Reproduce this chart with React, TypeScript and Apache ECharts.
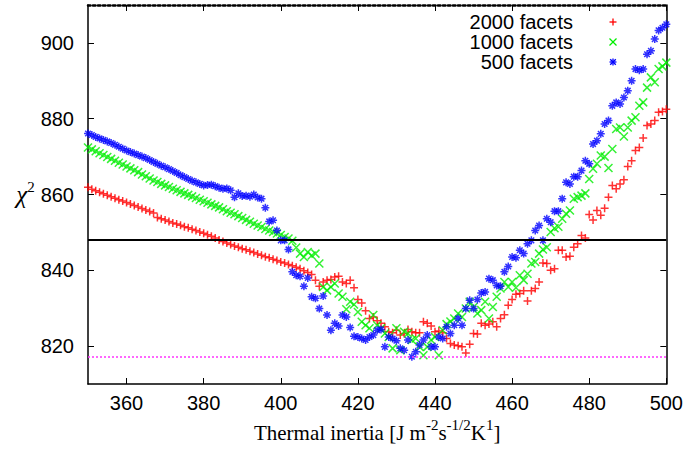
import React, { useEffect, useRef } from "react";
import * as echarts from "echarts";

const THERMAL_INERTIA = [
  350, 351, 352, 353, 354, 355, 356, 357, 358, 359,
  360, 361, 362, 363, 364, 365, 366, 367, 368, 369,
  370, 371, 372, 373, 374, 375, 376, 377, 378, 379,
  380, 381, 382, 383, 384, 385, 386, 387, 388, 389,
  390, 391, 392, 393, 394, 395, 396, 397, 398, 399,
  400, 401, 402, 403, 404, 405, 406, 407, 408, 409,
  410, 411, 412, 413, 414, 415, 416, 417, 418, 419,
  420, 421, 422, 423, 424, 425, 426, 427, 428, 429,
  430, 431, 432, 433, 434, 435, 436, 437, 438, 439,
  440, 441, 442, 443, 444, 445, 446, 447, 448, 449,
  450, 451, 452, 453, 454, 455, 456, 457, 458, 459,
  460, 461, 462, 463, 464, 465, 466, 467, 468, 469,
  470, 471, 472, 473, 474, 475, 476, 477, 478, 479,
  480, 481, 482, 483, 484, 485, 486, 487, 488, 489,
  490, 491, 492, 493, 494, 495, 496, 497, 498, 499,
  500,
];

const CHI2_2000 = [
  861.9, 861.4, 861.0, 860.6, 860.2, 859.8, 859.4, 859.0, 858.6, 858.3,
  857.9, 857.5, 857.1, 856.7, 856.3, 855.9, 855.5, 855.1, 853.9, 853.6,
  853.3, 852.9, 852.5, 852.2, 851.9, 851.5, 851.2, 850.8, 850.5, 850.1,
  849.8, 849.4, 849.0, 848.5, 848.0, 847.6, 847.2, 846.8, 846.4, 846.1,
  845.7, 845.4, 845.0, 844.7, 844.3, 844.0, 843.6, 843.3, 842.9, 842.6,
  842.2, 841.9, 841.5, 841.2, 840.8, 840.4, 839.9, 839.4, 838.9, 837.4,
  835.8, 836.9, 837.4, 837.6, 838.2, 838.4, 836.9, 836.5, 837.4, 835.4,
  832.3, 831.4, 829.3, 827.3, 827.7, 826.7, 826.0, 825.1, 823.8, 823.5,
  824.2, 822.9, 823.3, 824.4, 823.8, 823.5, 823.5, 826.4, 826.0, 825.3,
  823.8, 824.0, 823.5, 822.0, 820.7, 820.3, 820.1, 819.8, 818.2, 820.5,
  823.3, 823.2, 826.0, 825.5, 825.8, 826.4, 825.1, 827.3, 828.3, 830.8,
  832.3, 833.7, 833.9, 834.6, 831.9, 834.6, 835.2, 836.9, 841.9, 841.8,
  840.0, 840.4, 845.3, 845.3, 843.5, 843.7, 846.1, 847.0, 849.2, 848.5,
  854.7, 853.3, 855.8, 854.5, 856.4, 859.3, 862.4, 861.5, 862.8, 863.9,
  867.4, 868.9, 871.6, 872.4, 874.9, 878.2, 878.6, 879.5, 881.7, 881.9,
  882.5,
];

const CHI2_1000 = [
  872.4, 871.9, 871.4, 870.9, 870.4, 869.9, 869.4, 868.9, 868.4, 867.9,
  867.4, 866.9, 866.4, 865.9, 865.3, 864.8, 864.2, 863.7, 863.3, 862.8,
  862.4, 862.0, 861.5, 861.1, 860.7, 860.3, 859.9, 859.5, 859.1, 858.6,
  858.2, 857.8, 857.4, 857.0, 856.6, 856.1, 855.6, 855.2, 854.8, 854.3,
  853.8, 853.3, 852.8, 852.3, 851.8, 851.4, 850.9, 850.5, 850.1, 849.7,
  849.3, 848.8, 848.4, 847.8, 846.0, 844.4, 843.5, 844.8, 843.9, 844.4,
  841.8, 835.6, 834.7, 835.6, 836.5, 833.9, 833.0, 829.7, 831.7, 831.0,
  829.0, 826.4, 825.5, 824.7, 828.2, 825.5, 824.7, 823.3, 822.4, 819.4,
  824.7, 818.9, 823.8, 823.3, 821.6, 822.0, 819.8, 817.6, 819.8, 821.6,
  822.4, 817.6, 824.2, 825.8, 826.5, 827.3, 828.6, 827.7, 829.9, 831.7,
  830.3, 828.6, 829.5, 831.7, 827.3, 830.3, 833.0, 835.2, 836.9, 835.6,
  836.9, 835.4, 838.7, 837.4, 839.1, 841.8, 842.2, 844.4, 845.5, 846.1,
  850.1, 851.1, 851.5, 853.6, 854.9, 855.8, 858.9, 859.3, 859.7, 860.3,
  864.1, 866.8, 868.1, 870.3, 870.0, 867.0, 872.0, 877.3, 877.7, 875.3,
  877.7, 879.5, 880.4, 883.4, 884.3, 888.2, 890.9, 889.6, 893.1, 893.8,
  894.8,
];

const CHI2_500 = [
  876.1, 875.7, 875.2, 874.8, 874.4, 874.0, 873.6, 873.1, 872.6, 872.1,
  871.6, 871.2, 870.8, 870.4, 870.0, 869.6, 869.1, 868.6, 868.1, 867.6,
  867.2, 866.7, 866.2, 865.7, 865.1, 864.6, 864.1, 863.6, 863.2, 862.8,
  862.4, 862.5, 862.6, 862.2, 861.8, 861.5, 861.6, 861.1, 859.3, 860.3,
  859.6, 859.7, 859.4, 860.0, 859.2, 858.9, 856.5, 852.9, 853.2, 850.5,
  847.9, 847.9, 845.5, 839.6, 838.7, 838.4, 835.8, 838.0, 833.0, 832.6,
  829.9, 833.2, 828.2, 824.2, 826.0, 825.3, 828.2, 827.7, 824.9, 822.6,
  822.4, 822.0, 821.6, 822.4, 822.9, 824.2, 824.4, 819.8, 822.4, 822.0,
  821.4, 819.4, 818.9, 821.6, 817.2, 818.5, 820.3, 821.6, 822.9, 819.8,
  819.8, 822.4, 822.0, 825.1, 823.3, 825.5, 827.3, 825.5, 829.9, 832.1,
  829.9, 832.3, 834.0, 834.3, 837.8, 837.4, 836.0, 835.8, 839.6, 841.0,
  843.5, 843.3, 845.3, 844.4, 847.0, 847.9, 850.5, 851.8, 847.9, 853.6,
  852.7, 855.6, 855.6, 858.9, 863.2, 862.8, 864.7, 864.7, 866.3, 868.9,
  868.1, 873.3, 874.2, 876.0, 878.6, 879.5, 883.4, 884.3, 883.9, 885.6,
  887.4, 890.0, 893.1, 892.8, 893.1, 897.0, 897.9, 901.0, 903.3, 904.0,
  904.9,
];

const SERIES_NAMES = ["2000 facets", "1000 facets", "500 facets"];
const X_TICKS = [360, 380, 400, 420, 440, 460, 480, 500];
const Y_TICKS = [820, 840, 860, 880, 900];
const X_RANGE = [350, 500];
const Y_RANGE = [810, 910];
const THRESHOLD = 848;
const CHI2_MIN = 817.1;

const COLORS = ["#ff0000", "#00ee00", "#0000ff"];
const SYMBOLS = [
  "path://M0,4L8,4M4,0L4,8",
  "path://M0,0L8,8M8,0L0,8",
  "path://M0,4L8,4M4,0L4,8M1.2,1.2L6.8,6.8M6.8,1.2L1.2,6.8",
];

const SANS = '"Liberation Sans", Arial, Helvetica, sans-serif';
const SERIF = '"Liberation Serif", "Times New Roman", serif';

function markerLines(kind: number, cx: number, cy: number, color: string) {
  const r = 3.5;
  const segs: number[][] = [];
  if (kind === 0 || kind === 2) {
    segs.push([cx - r, cy, cx + r, cy], [cx, cy - r, cx, cy + r]);
  }
  if (kind === 1 || kind === 2) {
    const d = kind === 2 ? 2.8 : r;
    segs.push([cx - d, cy - d, cx + d, cy + d], [cx + d, cy - d, cx - d, cy + d]);
  }
  return segs.map((s) => ({
    type: "line",
    shape: { x1: s[0], y1: s[1], x2: s[2], y2: s[3] },
    style: { stroke: color, lineWidth: 1.3 },
    silent: true,
  }));
}

export default function App() {
  const ref = useRef<HTMLDivElement>(null);

  useEffect(() => {
    if (!ref.current) return;
    const chart = echarts.init(ref.current, undefined, { renderer: "svg" });
    const seriesData = [CHI2_2000, CHI2_1000, CHI2_500];

    const legendGraphics: any[] = [];
    SERIES_NAMES.forEach((name, i) => {
      const cy = 22 + i * 20;
      legendGraphics.push({
        type: "text",
        x: 573,
        y: cy,
        style: {
          text: name,
          textAlign: "right",
          textVerticalAlign: "middle",
          fontSize: 20,
          fontFamily: SANS,
          fill: "#000",
        },
        silent: true,
      });
      legendGraphics.push(...markerLines(i, 613, cy, COLORS[i]));
    });

    const commonX = {
      type: "value",
      min: X_RANGE[0],
      max: X_RANGE[1],
      splitLine: { show: false },
    };
    const commonY = {
      type: "value",
      min: Y_RANGE[0],
      max: Y_RANGE[1],
      splitLine: { show: false },
    };

    const scatterSeries: any[] = SERIES_NAMES.map((name, i) => ({
      name,
      type: "scatter",
      xAxisIndex: 0,
      yAxisIndex: 0,
      symbol: SYMBOLS[i],
      symbolSize: 8,
      itemStyle: { color: "transparent", borderColor: COLORS[i], borderWidth: 1.5 },
      data: THERMAL_INERTIA.map((t, k) => [t, seriesData[i][k]]),
      clip: true,
      silent: true,
      z: 2,
    }));

    scatterSeries.push({
      name: "threshold",
      type: "line",
      data: [],
      silent: true,
      z: 3,
      markLine: {
        silent: true,
        symbol: "none",
        label: { show: false },
        animation: false,
        lineStyle: { color: "#000", width: 2, type: "solid" },
        data: [{ yAxis: THRESHOLD }],
      },
    });
    scatterSeries.push({
      name: "minimum",
      type: "line",
      data: [],
      silent: true,
      z: 1,
      markLine: {
        silent: true,
        symbol: "none",
        label: { show: false },
        animation: false,
        lineStyle: { color: "#ff33ff", width: 1.5, type: [2, 2] },
        data: [{ yAxis: CHI2_MIN }],
      },
    });

    chart.setOption({
      animation: false,
      backgroundColor: "#ffffff",
      grid: { left: 88, right: 19, top: 5, bottom: 66, containLabel: false },
      graphic: legendGraphics,
      xAxis: [
        {
          ...commonX,
          position: "bottom",
          axisLine: { show: true, onZero: false, lineStyle: { color: "#000", width: 1.5 } },
          axisTick: { show: true, inside: true, length: 6, customValues: X_TICKS, lineStyle: { color: "#000" } },
          axisLabel: { customValues: X_TICKS, color: "#000", fontSize: 20, fontFamily: SANS, margin: 9 },
          name: "{m|Thermal inertia [J m}{s|-2}{m|s}{s|-1/2}{m|K}{s|1}{m|]}",
          nameLocation: "middle",
          nameGap: 31,
          nameTextStyle: {
            rich: {
              m: { fontFamily: SERIF, fontSize: 21, color: "#000", lineHeight: 31 },
              s: { fontFamily: SERIF, fontSize: 15, color: "#000", verticalAlign: "top" },
            },
          },
        },
        {
          ...commonX,
          position: "top",
          axisLine: { show: true, onZero: false, lineStyle: { color: "#000", width: 2.5, type: "dotted" } },
          axisTick: { show: true, inside: true, length: 6, customValues: X_TICKS, lineStyle: { color: "#000" } },
          axisLabel: { show: false },
        },
      ],
      yAxis: [
        {
          ...commonY,
          position: "left",
          axisLine: { show: true, onZero: false, lineStyle: { color: "#000", width: 1.5 } },
          axisTick: { show: true, inside: true, length: 6, customValues: Y_TICKS, lineStyle: { color: "#000" } },
          axisLabel: { customValues: Y_TICKS, color: "#000", fontSize: 20, fontFamily: SANS, margin: 14 },
          name: "{c|χ}{s|2}",
          nameLocation: "middle",
          nameRotate: 0,
          nameGap: 37,
          nameTextStyle: {
            rich: {
              c: { fontFamily: SERIF, fontStyle: "italic", fontSize: 25, color: "#000", lineHeight: 30 },
              s: { fontFamily: SERIF, fontSize: 15, color: "#000", verticalAlign: "top" },
            },
          },
        },
        {
          ...commonY,
          position: "right",
          axisLine: { show: true, onZero: false, lineStyle: { color: "#000", width: 1.5 } },
          axisTick: { show: true, inside: true, length: 6, customValues: Y_TICKS, lineStyle: { color: "#000" } },
          axisLabel: { show: false },
        },
      ],
      series: scatterSeries,
    });

    return () => {
      chart.dispose();
    };
  }, []);

  return (
    <div
      ref={ref}
      style={{ position: "absolute", left: 0, top: 0, width: 686, height: 450, background: "#fff" }}
    />
  );
}
